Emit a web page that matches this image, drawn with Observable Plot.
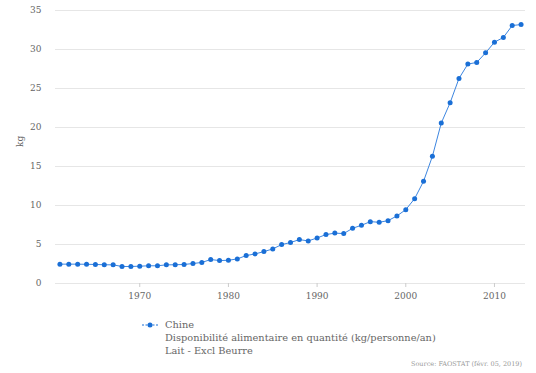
<!DOCTYPE html>
<html>
<head>
<meta charset="utf-8">
<script src="https://cdn.jsdelivr.net/npm/d3@7"></script>
<script src="https://cdn.jsdelivr.net/npm/@observablehq/plot@0.6"></script>
<style>
  html, body { margin: 0; padding: 0; background: #fff; }
  body { width: 536px; height: 373px; position: relative; overflow: hidden; font-family: "DejaVu Serif", "Liberation Serif", serif; }
  #chart { position: absolute; left: 0; top: 0; }
  #legend { position: absolute; left: 141px; top: 318px; font-size: 9.8px; color: #666; line-height: 13px; }
  #legend .row { display: flex; align-items: flex-start; }
  #legend .sym { width: 20px; height: 13px; margin-right: 4px; }
  #source { position: absolute; right: 14px; top: 360px; font-size: 6.5px; color: #999; }
</style>
</head>
<body>
<div id="chart"></div>
<div id="legend">
  <div class="row">
    <svg class="sym" width="20" height="13"><line x1="1" y1="7" x2="17" y2="7" stroke="#1a6fd6" stroke-width="1" stroke-dasharray="2,1.5"></line><circle cx="9" cy="7" r="2.5" fill="#1a6fd6"></circle></svg>
    <div id="legtext"></div>
  </div>
</div>
<div id="source"></div>
<script>
const years = d3.range(1961, 2014);
const values = [
  2.48, 2.48, 2.48, 2.46, 2.44, 2.40, 2.39, 2.18, 2.18, 2.22,
  2.27, 2.27, 2.39, 2.40, 2.44, 2.56, 2.70, 3.07, 2.94, 2.98,
  3.15, 3.58, 3.79, 4.09, 4.43, 4.99, 5.25, 5.63, 5.46, 5.84,
  6.27, 6.46, 6.40, 7.08, 7.46, 7.93, 7.85, 8.06, 8.66, 9.47,
  10.88, 13.10, 16.30, 20.57, 23.17, 26.29, 28.13, 28.34, 29.57, 30.94,
  31.54, 33.07, 33.20
];
const seriesName = "Chine";
const legendLines = ["Disponibilité alimentaire en quantité (kg/personne/an)", "Lait - Excl Beurre"];
const yLabel = "kg";
const yTicks = [0, 5, 10, 15, 20, 25, 30, 35];
const xTicks = [1970, 1980, 1990, 2000, 2010];
const sourceText = "Source: FAOSTAT (févr. 05, 2019)";

const data = years.map((y, i) => ({year: y, value: values[i]}));
const blue = "#1a6fd6";
const FONT = "'DejaVu Serif', 'Liberation Serif', serif";

const chart = Plot.plot({
  width: 536,
  height: 306,
  marginTop: 10,
  marginBottom: 23,
  marginLeft: 55,
  marginRight: 11,
  style: {fontFamily: FONT, fontSize: "9px", color: "#666", background: "transparent"},
  x: {domain: [1960.5, 2013.5], label: null},
  y: {domain: [0, 35], label: null},
  marks: [
    Plot.ruleY(yTicks, {stroke: "#e6e6e6", strokeWidth: 1}),
    Plot.axisX({ticks: xTicks, tickFormat: d => String(d), tickSize: 4, tickPadding: 5, stroke: "#ccc", fill: "#666", label: null, fontFamily: FONT, fontSize: 9}),
    Plot.axisY({ticks: yTicks, tickSize: 0, tickPadding: 14, fill: "#666", label: null, fontFamily: FONT, fontSize: 9}),
    Plot.text([yLabel], {frameAnchor: "left", dx: -35, rotate: -90, fontSize: 9, fill: "#666", fontFamily: FONT, text: d => d}),
    Plot.line(data, {x: "year", y: "value", stroke: "#3d86e0", strokeWidth: 1}),
    Plot.dot(data, {x: "year", y: "value", r: 2.5, fill: blue, stroke: "none"})
  ]
});
document.getElementById("chart").appendChild(chart);

const lt = document.getElementById("legtext");
[seriesName, ...legendLines].forEach(t => { const d = document.createElement("div"); d.textContent = t; lt.appendChild(d); });
document.getElementById("source").textContent = sourceText;
</script>
</body>
</html>
